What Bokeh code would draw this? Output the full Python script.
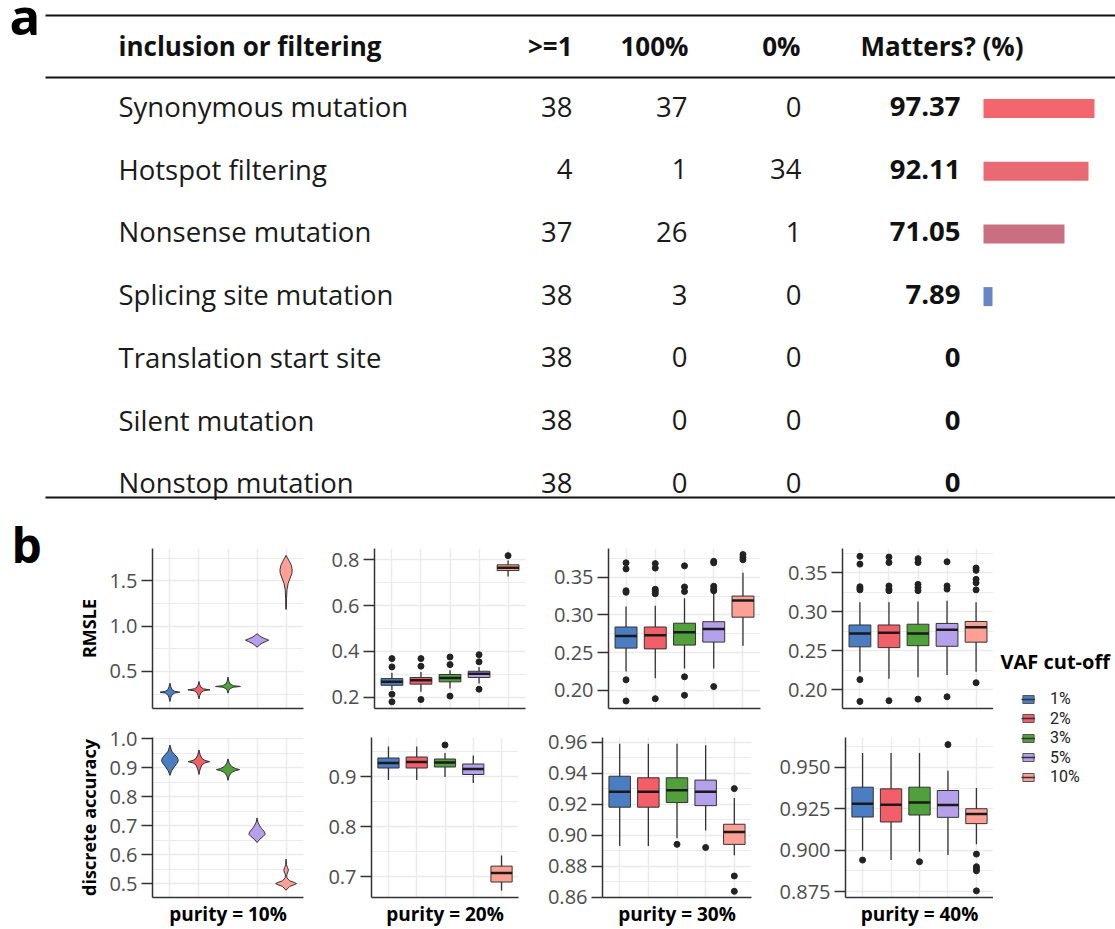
from bokeh.plotting import figure
from bokeh.models import (Range1d, FixedTicker, PrintfTickFormatter, Legend, LegendItem, Label,
                          ColumnDataSource)
from bokeh.layouts import row, column
from bokeh.core.properties import value
from bokeh.embed import file_html
from bokeh.resources import INLINE

FONT = "Open Sans"
NAN = float("nan")

# ---------------- Panel a data ----------------
features = ["Synonymous mutation", "Hotspot filtering", "Nonsense mutation",
            "Splicing site mutation", "Translation start site", "Silent mutation",
            "Nonstop mutation"]
n_ge1 = [38, 4, 37, 38, 38, 38, 38]
n_100 = [37, 1, 26, 3, 0, 0, 0]
n_0 = [0, 34, 1, 0, 0, 0, 0]
matters = [97.37, 92.11, 71.05, 7.89, 0, 0, 0]
bar_colors = ["#f4666e", "#e96a73", "#c87082", "#6687c3", "#6687c3", "#6687c3", "#6687c3"]
header_labels = ["inclusion or filtering", ">=1", "100%", "0%", "Matters? (%)"]

# ---------------- Panel b data ----------------
VAF = ["1%", "2%", "3%", "5%", "10%"]
VAF_COLORS = ["#4b7dc3", "#f35f69", "#50a03c", "#b4a0eb", "#ffa096"]

# violins, purity = 10% (value levels and half-widths in category units)
rmsle10_levels = [
    [0.167, 0.21, 0.24, 0.26, 0.27, 0.28, 0.30, 0.33, 0.37],
    [0.196, 0.235, 0.265, 0.285, 0.296, 0.307, 0.325, 0.35, 0.389],
    [0.259, 0.29, 0.31, 0.325, 0.333, 0.342, 0.36, 0.39, 0.437],
    [0.767, 0.79, 0.81, 0.83, 0.844, 0.858, 0.875, 0.895, 0.915],
    [1.185, 1.30, 1.40, 1.47, 1.53, 1.58, 1.62, 1.67, 1.71, 1.75, 1.78],
]
rmsle10_halfw = [
    [0, 0.03, 0.07, 0.16, 0.34, 0.16, 0.07, 0.03, 0],
    [0, 0.03, 0.07, 0.16, 0.38, 0.16, 0.07, 0.03, 0],
    [0, 0.03, 0.08, 0.18, 0.43, 0.18, 0.08, 0.03, 0],
    [0, 0.08, 0.17, 0.30, 0.40, 0.30, 0.17, 0.08, 0],
    [0.01, 0.015, 0.03, 0.07, 0.14, 0.20, 0.21, 0.18, 0.12, 0.05, 0],
]
acc10_levels = [
    [0.874, 0.89, 0.905, 0.915, 0.925, 0.935, 0.945, 0.958, 0.979],
    [0.877, 0.895, 0.91, 0.917, 0.9215, 0.926, 0.933, 0.945, 0.962],
    [0.857, 0.872, 0.884, 0.89, 0.894, 0.898, 0.905, 0.917, 0.931],
    [0.642, 0.652, 0.662, 0.670, 0.678, 0.69, 0.70, 0.712, 0.727],
    [0.477, 0.49, 0.496, 0.50, 0.504, 0.51, 0.52, 0.53, 0.54, 0.547, 0.555, 0.565, 0.585],
]
acc10_halfw = [
    [0, 0.06, 0.16, 0.24, 0.29, 0.26, 0.17, 0.06, 0],
    [0, 0.04, 0.10, 0.20, 0.37, 0.20, 0.10, 0.04, 0],
    [0, 0.04, 0.12, 0.25, 0.40, 0.25, 0.12, 0.04, 0],
    [0, 0.08, 0.20, 0.28, 0.26, 0.16, 0.09, 0.03, 0],
    [0, 0.12, 0.28, 0.36, 0.28, 0.12, 0.03, 0.02, 0.06, 0.08, 0.05, 0.015, 0],
]

# boxplots, RMSLE
rmsle20_q1 = [0.253, 0.258, 0.268, 0.287, 0.752]
rmsle20_med = [0.268, 0.275, 0.285, 0.303, 0.764]
rmsle20_q3 = [0.282, 0.287, 0.300, 0.314, 0.777]
rmsle20_lo = [0.232, 0.225, 0.239, 0.261, 0.726]
rmsle20_hi = [0.307, 0.311, 0.318, 0.333, 0.796]
rmsle20_out = [[0.369, 0.333, 0.214, 0.181], [0.369, 0.336, 0.191], [0.376, 0.343, 0.206],
               [0.386, 0.355, 0.236], [0.817]]

rmsle30_q1 = [0.256, 0.255, 0.260, 0.264, 0.297]
rmsle30_med = [0.272, 0.273, 0.277, 0.2815, 0.319]
rmsle30_q3 = [0.284, 0.284, 0.289, 0.291, 0.325]
rmsle30_lo = [0.225, 0.216, 0.229, 0.229, 0.259]
rmsle30_hi = [0.311, 0.312, 0.322, 0.329, 0.356]
rmsle30_out = [[0.369, 0.361, 0.332, 0.330, 0.214, 0.186],
               [0.368, 0.362, 0.334, 0.331, 0.328, 0.189],
               [0.365, 0.337, 0.331, 0.218, 0.1935],
               [0.371, 0.369, 0.338, 0.3345, 0.332, 0.205],
               [0.380, 0.3765, 0.373]]

rmsle40_q1 = [0.255, 0.254, 0.2565, 0.2557, 0.261]
rmsle40_med = [0.272, 0.273, 0.272, 0.277, 0.280]
rmsle40_q3 = [0.283, 0.283, 0.284, 0.285, 0.2875]
rmsle40_lo = [0.2225, 0.214, 0.216, 0.219, 0.223]
rmsle40_hi = [0.312, 0.312, 0.313, 0.314, 0.312]
rmsle40_out = [[0.371, 0.361, 0.332, 0.330, 0.328, 0.213, 0.185],
               [0.370, 0.363, 0.333, 0.329, 0.327, 0.186],
               [0.368, 0.363, 0.335, 0.331, 0.327, 0.188],
               [0.364, 0.333, 0.329, 0.191],
               [0.356, 0.353, 0.3415, 0.337, 0.328, 0.209]]

# boxplots, discrete accuracy
acc20_q1 = [0.917, 0.917, 0.919, 0.904, 0.689]
acc20_med = [0.927, 0.929, 0.928, 0.915, 0.707]
acc20_q3 = [0.937, 0.939, 0.935, 0.925, 0.7207]
acc20_lo = [0.893, 0.893, 0.899, 0.887, 0.672]
acc20_hi = [0.960, 0.960, 0.947, 0.942, 0.742]
acc20_out = [[], [], [0.963], [], []]

acc30_q1 = [0.918, 0.918, 0.921, 0.919, 0.894]
acc30_med = [0.928, 0.928, 0.929, 0.928, 0.902]
acc30_q3 = [0.938, 0.937, 0.937, 0.9355, 0.907]
acc30_lo = [0.893, 0.893, 0.898, 0.903, 0.887]
acc30_hi = [0.959, 0.959, 0.959, 0.958, 0.924]
acc30_out = [[], [], [0.894], [0.892], [0.930, 0.8736, 0.8637]]

acc40_q1 = [0.920, 0.917, 0.9212, 0.9198, 0.916]
acc40_med = [0.928, 0.9274, 0.9288, 0.9272, 0.9218]
acc40_q3 = [0.938, 0.937, 0.938, 0.936, 0.925]
acc40_lo = [0.8996, 0.894, 0.899, 0.897, 0.9036]
acc40_hi = [0.9587, 0.9587, 0.9587, 0.948, 0.9375]
acc40_out = [[0.894], [], [0.893], [0.9637], [0.8976, 0.890, 0.8889, 0.8875, 0.8754]]

# ---------------- left strip with panel letters ----------------
STRIP_W = 44
sl = figure(width=STRIP_W, height=929, x_range=Range1d(0, STRIP_W), y_range=Range1d(929, 0),
            toolbar_location=None, output_backend="svg", min_border=0,
            x_axis_location=None, y_axis_location=None)
sl.grid.visible = False
sl.outline_line_color = None
sl.text(x=[9], y=[14], text=["a"], text_font=value(FONT), text_font_style="bold",
        text_font_size="51px", text_baseline="alphabetic", text_color="#000000")
sl.text(x=[11], y=[544], text=["b"], text_font=value(FONT), text_font_style="bold",
        text_font_size="48px", text_baseline="alphabetic", text_color="#000000")

# ---------------- Panel a figure ----------------
ROW_Y0, ROW_DY = 106, 62.7
BAR_X0, BAR_SCALE = 983, 1.14

ta = figure(width=1115 - STRIP_W, height=520, x_range=Range1d(STRIP_W, 1115),
            y_range=Range1d(520, 0), toolbar_location=None, output_backend="svg", min_border=0,
            x_axis_location=None, y_axis_location=None)
ta.grid.visible = False
ta.outline_line_color = None

ta.segment(x0=[45, 45, 45], x1=[1115, 1115, 1115], y0=[15, 77, 497], y1=[15, 77, 497],
           line_color="#111111", line_width=2)

hx = [118, 572, 688, 800, 860]
halign = ["left", "right", "right", "right", "left"]
ta.text(x=hx, y=[45] * 5, text=header_labels, text_font=value(FONT), text_font_style="bold",
        text_font_size="26px", text_align=halign, text_baseline="middle", text_color="#111111")

ys = [ROW_Y0 + i * ROW_DY for i in range(len(features))]
common = dict(text_font=value(FONT), text_font_size="27.5px", text_baseline="middle",
              text_color="#1a1a1a")
ta.text(x=[118] * 7, y=ys, text=features, text_align="left", **common)
ta.text(x=[572] * 7, y=ys, text=[str(v) for v in n_ge1], text_align="right", **common)
ta.text(x=[687] * 7, y=ys, text=[str(v) for v in n_100], text_align="right", **common)
ta.text(x=[801] * 7, y=ys, text=[str(v) for v in n_0], text_align="right", **common)
ta.text(x=[960] * 7, y=ys, text=[("%.2f" % v) if v else "0" for v in matters],
        text_align="right", text_font=value(FONT), text_font_size="27.5px",
        text_font_style="bold", text_baseline="middle", text_color="#111111")
ta.hbar(y=[y + 2 for y in ys], left=BAR_X0, right=[BAR_X0 + m * BAR_SCALE for m in matters],
        height=19, fill_color=bar_colors, line_color=None)

# ---------------- Panel b helpers ----------------
XPOS = [i + 1 for i in range(len(VAF))]


def make_panel(width, height, left, right, top, bottom, yr, majors, minors, fmt,
               ylabel=None, xlabel=None):
    p = figure(width=width, height=height, x_range=Range1d(0.4, 5.6), y_range=Range1d(*yr),
               toolbar_location=None, output_backend="svg",
               min_border_left=left, min_border_right=right,
               min_border_top=top, min_border_bottom=bottom)
    p.outline_line_color = None
    p.background_fill_color = "white"
    p.yaxis.ticker = FixedTicker(ticks=majors, minor_ticks=minors)
    p.yaxis.formatter = PrintfTickFormatter(format=fmt)
    p.yaxis.major_tick_out = 11
    p.yaxis.major_tick_in = 0
    p.yaxis.minor_tick_out = 0
    p.yaxis.minor_tick_in = 0
    p.yaxis.major_tick_line_color = "#333333"
    p.yaxis.major_tick_line_width = 1.5
    p.yaxis.axis_line_color = "#333333"
    p.yaxis.axis_line_width = 1.5
    p.yaxis.major_label_text_font = FONT
    p.yaxis.major_label_text_font_size = "20px"
    p.yaxis.major_label_text_color = "#4d4d4d"
    p.yaxis.major_label_standoff = 4
    p.xaxis.ticker = FixedTicker(ticks=[])
    p.xaxis.major_tick_out = 0
    p.xaxis.major_tick_in = 0
    p.xaxis.major_label_standoff = 0
    p.xaxis.axis_line_color = "#333333"
    p.xaxis.axis_line_width = 1.5
    p.xgrid.ticker = FixedTicker(ticks=XPOS)
    p.xgrid.grid_line_color = "#ebebeb"
    p.xgrid.grid_line_width = 1.5
    p.ygrid.grid_line_color = "#ebebeb"
    p.ygrid.grid_line_width = 1.5
    p.ygrid.minor_grid_line_color = "#ebebeb"
    p.ygrid.minor_grid_line_width = 1
    if ylabel:
        p.yaxis.axis_label = ylabel
        p.yaxis.axis_label_text_font = FONT
        p.yaxis.axis_label_text_font_style = "bold"
        p.yaxis.axis_label_text_font_size = "18px"
        p.yaxis.axis_label_text_color = "#000000"
        p.yaxis.axis_label_standoff = 5
    if xlabel:
        p.xaxis.axis_label = xlabel
        p.xaxis.axis_label_text_font = FONT
        p.xaxis.axis_label_text_font_style = "bold"
        p.xaxis.axis_label_text_font_size = "19px"
        p.xaxis.axis_label_text_color = "#000000"
        p.xaxis.axis_label_standoff = 3
    return p


def add_violins(p, levels, halfw):
    xs, yv = [], []
    for i, (lv, hw) in enumerate(zip(levels, halfw)):
        c = XPOS[i]
        xs.append([c - w for w in hw] + [c + w for w in reversed(hw)])
        yv.append(list(lv) + list(reversed(lv)))
    p.patches(xs=xs, ys=yv, fill_color=VAF_COLORS, line_color="#333333", line_width=1)


def add_boxes(p, q1, med, q3, lo, hi, out):
    p.segment(x0=XPOS, x1=XPOS, y0=lo, y1=hi, line_color="#333333", line_width=1.3)
    p.vbar(x=XPOS, bottom=q1, top=q3, width=0.75, fill_color=VAF_COLORS,
           line_color="#333333", line_width=1)
    p.segment(x0=[x - 0.375 for x in XPOS], x1=[x + 0.375 for x in XPOS], y0=med, y1=med,
              line_color="#1a1a1a", line_width=2.5)
    ox = [XPOS[i] for i, o in enumerate(out) for _ in o]
    oy = [v for o in out for v in o]
    p.scatter(x=ox, y=oy, size=6, fill_color="#222222", line_color="#222222")


LB1 = 152 - STRIP_W   # left border of first column (frame starts at x=152)

# top row
f1t = make_panel(LB1 + 156, 200, LB1, 5, 28, 12, (0.09, 1.856), [0.5, 1.0, 1.5],
                 [0.25, 0.75, 1.25, 1.75], "%.1f", ylabel="RMSLE")
add_violins(f1t, rmsle10_levels, rmsle10_halfw)
f2t = make_panel(222, 200, 66, 5, 28, 12, (0.152, 0.848), [0.2, 0.4, 0.6, 0.8],
                 [0.3, 0.5, 0.7], "%.1f")
add_boxes(f2t, rmsle20_q1, rmsle20_med, rmsle20_q3, rmsle20_lo, rmsle20_hi, rmsle20_out)
f3t = make_panel(235, 200, 78, 5, 28, 12, (0.176, 0.388), [0.20, 0.25, 0.30, 0.35],
                 [0.225, 0.275, 0.325, 0.375], "%.2f")
add_boxes(f3t, rmsle30_q1, rmsle30_med, rmsle30_q3, rmsle30_lo, rmsle30_hi, rmsle30_out)
f4t = make_panel(228, 200, 77, 0, 28, 12, (0.176, 0.381), [0.20, 0.25, 0.30, 0.35],
                 [0.225, 0.275, 0.325, 0.375], "%.2f")
add_boxes(f4t, rmsle40_q1, rmsle40_med, rmsle40_q3, rmsle40_lo, rmsle40_hi, rmsle40_out)

# bottom row
f1b = make_panel(LB1 + 156, 209, LB1, 5, 17, 32, (0.452, 1.005),
                 [0.5, 0.6, 0.7, 0.8, 0.9, 1.0], [0.55, 0.65, 0.75, 0.85, 0.95], "%.1f",
                 ylabel="discrete accuracy", xlabel="purity = 10%")
add_violins(f1b, acc10_levels, acc10_halfw)
f2b = make_panel(215, 209, 63, 5, 17, 32, (0.658, 0.978), [0.7, 0.8, 0.9],
                 [0.75, 0.85, 0.95], "%.1f", xlabel="purity = 20%")
add_boxes(f2b, acc20_q1, acc20_med, acc20_q3, acc20_lo, acc20_hi, acc20_out)
f3b = make_panel(233, 209, 79, 5, 17, 32, (0.8597, 0.963),
                 [0.86, 0.88, 0.90, 0.92, 0.94, 0.96], [0.87, 0.89, 0.91, 0.93, 0.95],
                 "%.2f", xlabel="purity = 30%")
add_boxes(f3b, acc30_q1, acc30_med, acc30_q3, acc30_lo, acc30_hi, acc30_out)
f4b = make_panel(237, 209, 89, 0, 17, 32, (0.8714, 0.968), [0.875, 0.900, 0.925, 0.950],
                 [0.8875, 0.9125, 0.9375, 0.9625], "%.3f", xlabel="purity = 40%")
add_boxes(f4b, acc40_q1, acc40_med, acc40_q3, acc40_lo, acc40_hi, acc40_out)

# legend figure (one legend entry per VAF cut-off)
LEG_H = 409
LEG_TOP = 520
LEG_Y0, LEG_DY = 699, 19.5
LEG_ITEM_HALF = 9.4
lg = figure(width=122, height=LEG_H, x_range=Range1d(0, 1), y_range=Range1d(0, 1),
            toolbar_location=None, output_backend="svg", min_border=0,
            x_axis_location=None, y_axis_location=None)
lg.grid.visible = False
lg.outline_line_color = None
for i, (lab, col) in enumerate(zip(VAF, VAF_COLORS)):
    src = ColumnDataSource(dict(l=[NAN], r=[NAN], t=[NAN], b=[NAN]))
    rq = lg.quad(left="l", right="r", top="t", bottom="b", source=src, fill_color=col,
                 line_color="#555555", line_width=1)
    rl = lg.line(x=[NAN], y=[NAN], line_color="#333333", line_width=1.5)
    cy = LEG_Y0 + i * LEG_DY
    loc_y = LEG_H - (cy - LEG_TOP) - LEG_ITEM_HALF
    lg.add_layout(Legend(items=[LegendItem(label=lab, renderers=[rq, rl])],
                         location=(28, loc_y), padding=0, margin=0, spacing=0,
                         glyph_width=14, glyph_height=10, label_height=17, label_standoff=15,
                         label_text_font="Roboto", label_text_font_size="16px",
                         label_text_color="#222222", border_line_color=None,
                         background_fill_alpha=0))
lg.add_layout(Label(x=7, y=268, x_units="screen", y_units="screen", text="VAF cut-off",
                    text_font=FONT, text_font_style="bold", text_font_size="20px",
                    text_baseline="middle", text_color="#000000"))

grid_b = column(row(f1t, f2t, f3t, f4t), row(f1b, f2b, f3b, f4b))
layout = row(sl, column(ta, row(grid_b, lg)))

open("out.html", "w").write(file_html(layout, INLINE))
